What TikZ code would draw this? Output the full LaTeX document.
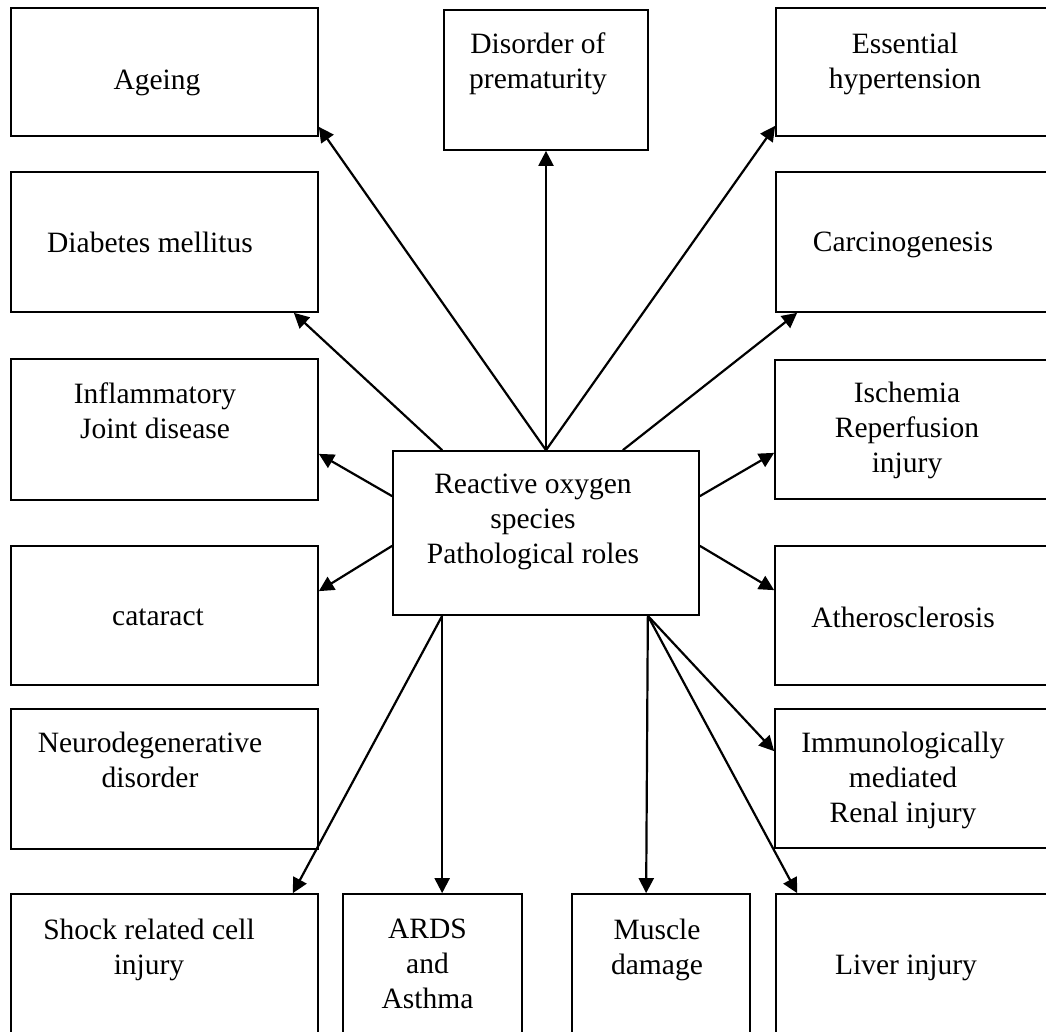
\documentclass[tikz,border=0pt]{standalone}
\usepackage{fontspec}
\setmainfont{Liberation Serif}
\usetikzlibrary{arrows.meta}
\begin{document}
\begin{tikzpicture}[x=1pt,y=-1pt,
  box/.style={draw, line width=1.7pt, rectangle, inner sep=0pt},
  lbl/.style={inner sep=0pt, align=center, font=\fontsize{29.5}{35}\selectfont},
  arr/.style={line width=2.2pt, -{Triangle[length=15pt,width=15pt]}}]
\useasboundingbox (0,0) rectangle (1046,1032);
\clip (0,0) rectangle (1046,1032);
\fill[white] (0,0) rectangle (1046,1032);
% boxes
\node[box, minimum width=307pt, minimum height=128pt] (ageing) at (164.5,72) {};
\node[box, minimum width=307pt, minimum height=140pt] (diab) at (164.5,242) {};
\node[box, minimum width=307pt, minimum height=141pt] (infl) at (164.5,429.5) {};
\node[box, minimum width=307pt, minimum height=139pt] (cat) at (164.5,615.5) {};
\node[box, minimum width=307pt, minimum height=140pt] (neuro) at (164.5,779) {};
\node[box, minimum width=307pt, minimum height=151pt] (shock) at (164.5,969.5) {};
\node[box, minimum width=179pt, minimum height=151pt] (ards) at (432.5,969.5) {};
\node[box, minimum width=178pt, minimum height=151pt] (muscle) at (661,969.5) {};
\node[box, minimum width=284pt, minimum height=151pt] (liver) at (918,969.5) {};
\node[box, minimum width=204pt, minimum height=140pt] (disorder) at (546,80) {};
\node[box, minimum width=284pt, minimum height=128pt] (ess) at (918,72) {};
\node[box, minimum width=284pt, minimum height=140pt] (carc) at (918,242) {};
\node[box, minimum width=285pt, minimum height=139pt] (isch) at (917.5,429.5) {};
\node[box, minimum width=285pt, minimum height=139pt] (ather) at (917.5,615.5) {};
\node[box, minimum width=285pt, minimum height=139pt] (immuno) at (917.5,778.5) {};
\node[box, minimum width=306pt, minimum height=164pt] (ros) at (546,533) {};
% texts
\node[lbl] (tageing) at (157,82.5) {Ageing};
\node[lbl] (tdiab) at (150,242) {Diabetes mellitus};
\node[lbl] (tinfl) at (155,411) {Inflammatory\\Joint disease};
\node[lbl] (tcat) at (158,617) {cataract};
\node[lbl] (tneuro) at (150,760) {Neurodegenerative\\disorder};
\node[lbl] (tshock) at (149,949.5) {Shock related cell\\injury};
\node[lbl] (tards) at (427.5,963.5) {ARDS\\and\\Asthma};
\node[lbl] (tmuscle) at (657,950) {Muscle\\damage};
\node[lbl] (tliver) at (906,967.5) {Liver injury};
\node[lbl] (tdisorder) at (538,63.5) {Disorder of\\prematurity};
\node[lbl] (tess) at (905,63.5) {Essential\\hypertension};
\node[lbl] (tcarc) at (903,244.5) {Carcinogenesis};
\node[lbl] (tisch) at (907,430) {Ischemia\\Reperfusion\\injury};
\node[lbl] (tather) at (903,617.5) {Atherosclerosis};
\node[lbl] (timmuno) at (903,780) {Immunologically\\mediated\\Renal injury};
\node[lbl] (tros) at (533,521.5) {Reactive oxygen\\species\\Pathological roles};
% connectors
\draw[arr] (ros.north) -- ([yshift=10pt]ageing.south east);
\draw[arr] (ros.north) -- (disorder.south);
\draw[arr] (ros.north) -- ([yshift=11pt]ess.south west);
\draw[arr] ([xshift=50pt]ros.north west) -- ([xshift=-25pt]diab.south east);
\draw[arr] ([xshift=-77pt]ros.north east) -- ([xshift=22pt]carc.south west);
\draw[arr] ([yshift=-46pt]ros.north west) -- ([yshift=47pt]infl.south east);
\draw[arr] ([yshift=70pt]ros.south west) -- ([yshift=-46pt]cat.north east);
\draw[arr] ([yshift=-46pt]ros.north east) -- ([yshift=47pt]isch.south west);
\draw[arr] ([yshift=70pt]ros.south east) -- ([yshift=-45pt]ather.north west);
\draw[arr] ([xshift=50pt]ros.south west) -- ([xshift=-26pt]shock.north east);
\draw[arr] ([xshift=50pt]ros.south west) -- ([xshift=100pt]ards.north west);
\draw[arr] ([xshift=-52pt]ros.south east) -- ([xshift=75pt]muscle.north west);
\draw[arr] ([xshift=-52pt]ros.south east) -- ([yshift=-43pt]immuno.north west);
\draw[arr] ([xshift=-52pt]ros.south east) -- ([xshift=22pt]liver.north west);
\end{tikzpicture}
\end{document}
